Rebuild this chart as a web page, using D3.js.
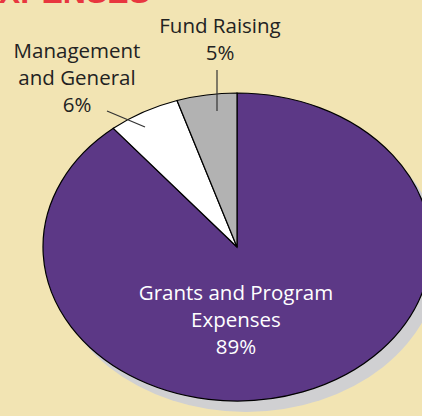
<!DOCTYPE html>
<html>
<head>
<meta charset="utf-8">
<title>Expenses pie</title>
<script src="https://d3js.org/d3.v7.min.js"></script>
<style>
  body { margin: 0; background: #f2e4b3; overflow: hidden; }
  text { font-family: "Open Sans", sans-serif; }
</style>
</head>
<body>
<script>
const categories = ["Grants and Program Expenses", "Management and General", "Fund Raising"];
const values = [89, 6, 5];
const colors = ["#5c3886", "#ffffff", "#b2b2b2"];

const width = 422, height = 416;
const cx = 237, cy = 247, rx = 194, ry = 154;

const svg = d3.select("body").append("svg")
    .attr("width", width)
    .attr("height", height);

// title, mostly cut off at top
svg.append("text")
    .attr("x", 150).attr("y", 3)
    .attr("text-anchor", "end")
    .style("font-family", "'Liberation Sans', sans-serif")
    .style("font-weight", "bold")
    .style("font-size", "32px")
    .style("fill", "#e8363f")
    .text("EXPENSES");

const pie = d3.pie().sort(null).value(d => d);
const arcs = pie(values);
const arc = d3.arc().innerRadius(0).outerRadius(rx);

// shadow
svg.append("ellipse")
    .attr("cx", cx + 9).attr("cy", cy + 11)
    .attr("rx", rx).attr("ry", ry)
    .style("fill", "#d0d0d2");

const g = svg.append("g")
    .attr("transform", `translate(${cx},${cy}) scale(1,${ry / rx})`);

g.selectAll("path")
    .data(arcs).join("path")
    .attr("d", arc)
    .style("fill", (d, i) => colors[i])
    .style("stroke", "#000")
    .style("stroke-width", 1.2)
    .style("vector-effect", "non-scaling-stroke");

// labels
const labels = [
    { lines: ["Fund Raising", "5%"], x: 220, y: 33, fill: "#222" },
    { lines: ["Management", "and General", "6%"], x: 77, y: 58, fill: "#222" },
    { lines: ["Grants and Program", "Expenses", "89%"], x: 236, y: 300, fill: "#ffffff" }
];
labels.forEach(l => {
    const t = svg.append("text")
        .attr("text-anchor", "middle")
        .style("font-size", "20.5px")
        .style("fill", l.fill);
    l.lines.forEach((s, i) => {
        t.append("tspan").attr("x", l.x).attr("y", l.y + i * 27).text(s);
    });
});

// leader lines
const leaders = [[217, 70, 217, 111], [107, 111, 145, 127]];
svg.selectAll("line.leader")
    .data(leaders).join("line")
    .attr("class", "leader")
    .attr("x1", d => d[0]).attr("y1", d => d[1])
    .attr("x2", d => d[2]).attr("y2", d => d[3])
    .style("stroke", "#333")
    .style("stroke-width", 1.2);
</script>
</body>
</html>
